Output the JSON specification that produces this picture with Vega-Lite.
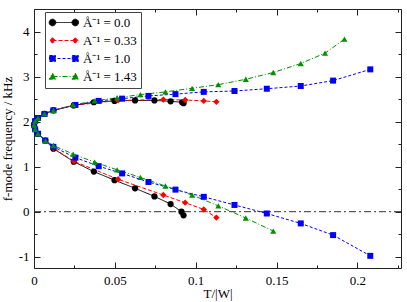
{
  "$schema": "https://vega.github.io/schema/vega-lite/v6.json",
  "width": 367,
  "height": 259,
  "autosize": {"type": "none"},
  "padding": {"left": 34, "top": 9, "right": 6, "bottom": 34},
  "config": {
    "view": {"stroke": null},
    "axis": {
      "labelFont": "Liberation Serif",
      "titleFont": "Liberation Serif",
      "labelFontSize": 13,
      "titleFontSize": 13,
      "titleFontWeight": "normal",
      "labelColor": "#000",
      "titleColor": "#000",
      "domainColor": "#222",
      "tickColor": "#222",
      "grid": false
    }
  },
  "datasets": {
    "pts": [
      {"s": "a", "o": 1, "x": 0.0925, "y": 2.41},
      {"s": "a", "o": 2, "x": 0.0916, "y": 2.43},
      {"s": "a", "o": 3, "x": 0.0845, "y": 2.45},
      {"s": "a", "o": 4, "x": 0.0745, "y": 2.47},
      {"s": "a", "o": 5, "x": 0.0625, "y": 2.47},
      {"s": "a", "o": 6, "x": 0.0498, "y": 2.46},
      {"s": "a", "o": 7, "x": 0.037, "y": 2.43},
      {"s": "a", "o": 8, "x": 0.0246, "y": 2.36},
      {"s": "a", "o": 9, "x": 0.012, "y": 2.25},
      {"s": "a", "o": 10, "x": 0.0065, "y": 2.17},
      {"s": "a", "o": 11, "x": 0.0025, "y": 2.08},
      {"s": "a", "o": 12, "x": 0.0007, "y": 2.01},
      {"s": "a", "o": 13, "x": 0, "y": 1.92},
      {"s": "a", "o": 14, "x": 0.0007, "y": 1.83},
      {"s": "a", "o": 15, "x": 0.0025, "y": 1.73},
      {"s": "a", "o": 16, "x": 0.007, "y": 1.58},
      {"s": "a", "o": 17, "x": 0.012, "y": 1.40},
      {"s": "a", "o": 18, "x": 0.0246, "y": 1.11},
      {"s": "a", "o": 19, "x": 0.037, "y": 0.89},
      {"s": "a", "o": 20, "x": 0.0498, "y": 0.70},
      {"s": "a", "o": 21, "x": 0.0625, "y": 0.52},
      {"s": "a", "o": 22, "x": 0.0745, "y": 0.34},
      {"s": "a", "o": 23, "x": 0.0845, "y": 0.17},
      {"s": "a", "o": 24, "x": 0.0912, "y": 0.0},
      {"s": "a", "o": 25, "x": 0.0925, "y": -0.08},

      {"s": "b", "o": 1, "x": 0.1128, "y": 2.44},
      {"s": "b", "o": 2, "x": 0.105, "y": 2.46},
      {"s": "b", "o": 3, "x": 0.0935, "y": 2.48},
      {"s": "b", "o": 4, "x": 0.080, "y": 2.49},
      {"s": "b", "o": 5, "x": 0.052, "y": 2.47},
      {"s": "b", "o": 6, "x": 0.0246, "y": 2.36},
      {"s": "b", "o": 7, "x": 0.012, "y": 2.25},
      {"s": "b", "o": 8, "x": 0.0065, "y": 2.17},
      {"s": "b", "o": 9, "x": 0.0025, "y": 2.08},
      {"s": "b", "o": 10, "x": 0.0007, "y": 2.01},
      {"s": "b", "o": 11, "x": 0, "y": 1.92},
      {"s": "b", "o": 12, "x": 0.0007, "y": 1.83},
      {"s": "b", "o": 13, "x": 0.0025, "y": 1.73},
      {"s": "b", "o": 14, "x": 0.007, "y": 1.58},
      {"s": "b", "o": 15, "x": 0.012, "y": 1.41},
      {"s": "b", "o": 16, "x": 0.0246, "y": 1.12},
      {"s": "b", "o": 17, "x": 0.052, "y": 0.72},
      {"s": "b", "o": 18, "x": 0.080, "y": 0.37},
      {"s": "b", "o": 19, "x": 0.0935, "y": 0.20},
      {"s": "b", "o": 20, "x": 0.105, "y": 0.05},
      {"s": "b", "o": 21, "x": 0.1128, "y": -0.13},

      {"s": "c", "o": 1, "x": 0.208, "y": 3.16},
      {"s": "c", "o": 2, "x": 0.185, "y": 2.91},
      {"s": "c", "o": 3, "x": 0.165, "y": 2.79},
      {"s": "c", "o": 4, "x": 0.144, "y": 2.73},
      {"s": "c", "o": 5, "x": 0.124, "y": 2.68},
      {"s": "c", "o": 6, "x": 0.105, "y": 2.66},
      {"s": "c", "o": 7, "x": 0.0875, "y": 2.61},
      {"s": "c", "o": 8, "x": 0.0708, "y": 2.57},
      {"s": "c", "o": 9, "x": 0.0545, "y": 2.51},
      {"s": "c", "o": 10, "x": 0.040, "y": 2.46},
      {"s": "c", "o": 11, "x": 0.0256, "y": 2.37},
      {"s": "c", "o": 12, "x": 0.012, "y": 2.25},
      {"s": "c", "o": 13, "x": 0.0065, "y": 2.17},
      {"s": "c", "o": 14, "x": 0.0025, "y": 2.08},
      {"s": "c", "o": 15, "x": 0.0007, "y": 2.01},
      {"s": "c", "o": 16, "x": 0, "y": 1.92},
      {"s": "c", "o": 17, "x": 0.0007, "y": 1.83},
      {"s": "c", "o": 18, "x": 0.0025, "y": 1.73},
      {"s": "c", "o": 19, "x": 0.007, "y": 1.58},
      {"s": "c", "o": 20, "x": 0.012, "y": 1.44},
      {"s": "c", "o": 21, "x": 0.0256, "y": 1.20},
      {"s": "c", "o": 22, "x": 0.040, "y": 1.01},
      {"s": "c", "o": 23, "x": 0.0545, "y": 0.85},
      {"s": "c", "o": 24, "x": 0.0708, "y": 0.66},
      {"s": "c", "o": 25, "x": 0.0875, "y": 0.49},
      {"s": "c", "o": 26, "x": 0.105, "y": 0.33},
      {"s": "c", "o": 27, "x": 0.124, "y": 0.15},
      {"s": "c", "o": 28, "x": 0.144, "y": -0.04},
      {"s": "c", "o": 29, "x": 0.165, "y": -0.26},
      {"s": "c", "o": 30, "x": 0.185, "y": -0.52},
      {"s": "c", "o": 31, "x": 0.208, "y": -0.98},

      {"s": "d", "o": 1, "x": 0.192, "y": 3.83},
      {"s": "d", "o": 2, "x": 0.180, "y": 3.52},
      {"s": "d", "o": 3, "x": 0.165, "y": 3.29},
      {"s": "d", "o": 4, "x": 0.148, "y": 3.09},
      {"s": "d", "o": 5, "x": 0.131, "y": 2.94},
      {"s": "d", "o": 6, "x": 0.114, "y": 2.82},
      {"s": "d", "o": 7, "x": 0.0978, "y": 2.74},
      {"s": "d", "o": 8, "x": 0.0813, "y": 2.66},
      {"s": "d", "o": 9, "x": 0.0658, "y": 2.60},
      {"s": "d", "o": 10, "x": 0.0514, "y": 2.53},
      {"s": "d", "o": 11, "x": 0.0375, "y": 2.46},
      {"s": "d", "o": 12, "x": 0.0242, "y": 2.37},
      {"s": "d", "o": 13, "x": 0.012, "y": 2.25},
      {"s": "d", "o": 14, "x": 0.0065, "y": 2.17},
      {"s": "d", "o": 15, "x": 0.0025, "y": 2.08},
      {"s": "d", "o": 16, "x": 0.0007, "y": 2.01},
      {"s": "d", "o": 17, "x": 0, "y": 1.92},
      {"s": "d", "o": 18, "x": 0.0007, "y": 1.83},
      {"s": "d", "o": 19, "x": 0.0025, "y": 1.73},
      {"s": "d", "o": 20, "x": 0.0071, "y": 1.57},
      {"s": "d", "o": 21, "x": 0.012, "y": 1.47},
      {"s": "d", "o": 22, "x": 0.0242, "y": 1.28},
      {"s": "d", "o": 23, "x": 0.0375, "y": 1.10},
      {"s": "d", "o": 24, "x": 0.0514, "y": 0.93},
      {"s": "d", "o": 25, "x": 0.0658, "y": 0.76},
      {"s": "d", "o": 26, "x": 0.0813, "y": 0.57},
      {"s": "d", "o": 27, "x": 0.0978, "y": 0.37},
      {"s": "d", "o": 28, "x": 0.114, "y": 0.13},
      {"s": "d", "o": 29, "x": 0.131, "y": -0.14},
      {"s": "d", "o": 30, "x": 0.148, "y": -0.43}
    ]
  },
  "layer": [
    {
      "data": {"values": [{"y": 0}]},
      "mark": {"type": "rule", "color": "#333", "strokeWidth": 1, "strokeDash": [7, 3, 2, 3]},
      "encoding": {
        "y": {"field": "y", "type": "quantitative", "axis": null}
      }
    },
    {
      "data": {"name": "pts"},
      "mark": {"type": "line", "strokeWidth": 1},
      "encoding": {
        "x": {
          "field": "x", "type": "quantitative",
          "scale": {"domain": [0, 0.227], "nice": false, "zero": false},
          "axis": {
            "orient": "bottom",
            "title": "T/|W|",
            "values": [0, 0.025, 0.05, 0.075, 0.1, 0.125, 0.15, 0.175, 0.2, 0.225],
            "labelExpr": "indexof([0, 0.05, 0.1, 0.15, 0.2], datum.value) >= 0 ? toString(datum.value) : ''",
            "tickSize": {"condition": {"test": "indexof([0, 0.05, 0.1, 0.15, 0.2], datum.value) >= 0", "value": -6}, "value": -3},
            "labelPadding": 12,
            "labelFlush": false,
            "labelOverlap": false,
            "titleY": 19
          }
        },
        "y": {
          "field": "y", "type": "quantitative",
          "scale": {"domain": [-1.25, 4.5], "nice": false, "zero": false},
          "axis": {
            "orient": "left",
            "title": "f-mode frequency / kHz",
            "values": [-1, -0.5, 0, 0.5, 1, 1.5, 2, 2.5, 3, 3.5, 4, 4.5],
            "labelExpr": "datum.value % 1 == 0 ? toString(datum.value) : ''",
            "tickSize": {"condition": {"test": "datum.value % 1 == 0", "value": -6}, "value": -3},
            "labelPadding": 11,
            "labelFlush": false,
            "labelOverlap": false,
            "titleX": -20
          }
        },
        "color": {
          "field": "s", "type": "nominal",
          "scale": {"domain": ["a", "b", "c", "d"], "range": ["#000000", "#ff0000", "#0000ff", "#009000"]},
          "legend": {
            "orient": "none",
            "legendX": 11,
            "legendY": 3,
            "title": null,
            "padding": 4,
            "strokeColor": "#444",
            "fillColor": "#ffffff",
            "symbolSize": 144,
            "symbolStrokeWidth": 1,
            "symbolOpacity": 1,
            "rowPadding": 4,
            "labelOffset": 21,
            "labelFont": "Liberation Serif",
            "labelFontSize": 13,
            "labelColor": "#000",
            "labelExpr": "{'a': 'Å⁻¹ = 0.0', 'b': 'A⁻¹ = 0.33', 'c': 'Å⁻¹ = 1.0', 'd': 'Å⁻¹ = 1.43'}[datum.value]",
            "symbolType": {"expr": "datum.value == 'a' ? 'M-0.5,0L3.3,0M-1.05,0A0.55,0.55,0,1,0,0.05,0A0.55,0.55,0,1,0,-1.05,0ZM2.75,0A0.55,0.55,0,1,0,3.85,0A0.55,0.55,0,1,0,2.75,0Z' : datum.value == 'b' ? 'M-0.5,0L3.3,0M-0.5,-0.45L-0.05,0L-0.5,0.45L-0.95,0ZM3.3,-0.45L3.75,0L3.3,0.45L2.85,0Z' : datum.value == 'c' ? 'M-0.5,0L3.3,0M-1,-0.5L0,-0.5L0,0.5L-1,0.5ZM2.8,-0.5L3.8,-0.5L3.8,0.5L2.8,0.5Z' : 'M-0.5,0L3.3,0M-0.5,-0.55L0.05,0.45L-1.05,0.45ZM3.3,-0.55L3.85,0.45L2.75,0.45Z'"},
            "symbolDash": {"expr": "datum.value == 'a' ? [1, 0] : datum.value == 'b' ? [4, 2] : datum.value == 'c' ? [3, 2] : [5, 2, 1, 2]"}
          }
        },
        "strokeDash": {
          "field": "s", "type": "nominal",
          "scale": {"domain": ["a", "b", "c", "d"], "range": [[1, 0], [4, 2], [3, 2], [5, 2, 1, 2]]},
          "legend": null
        },
        "order": {"field": "o", "type": "quantitative"}
      }
    },
    {
      "data": {"name": "pts"},
      "mark": {"type": "point", "filled": true, "opacity": 1},
      "encoding": {
        "x": {"field": "x", "type": "quantitative", "axis": null},
        "y": {"field": "y", "type": "quantitative", "axis": null},
        "color": {"field": "s", "type": "nominal"},
        "shape": {
          "field": "s", "type": "nominal",
          "scale": {"domain": ["d", "c", "b", "a"], "range": ["triangle-up", "square", "diamond", "circle"]},
          "legend": null
        },
        "size": {
          "field": "s", "type": "nominal",
          "scale": {"domain": ["c", "d", "a", "b"], "range": [36, 40, 46, 30]},
          "legend": null
        }
      }
    },
    {
      "data": {"values": [{"x": 0, "y": 0}]},
      "mark": {"type": "point", "opacity": 0},
      "encoding": {
        "x": {
          "field": "x", "type": "quantitative",
          "axis": {
            "orient": "top",
            "title": null,
            "labels": false,
            "values": [0, 0.025, 0.05, 0.075, 0.1, 0.125, 0.15, 0.175, 0.2, 0.225],
            "tickSize": {"condition": {"test": "indexof([0, 0.05, 0.1, 0.15, 0.2], datum.value) >= 0", "value": -6}, "value": -3}
          }
        },
        "y": {
          "field": "y", "type": "quantitative",
          "axis": {
            "orient": "right",
            "title": null,
            "labels": false,
            "values": [-1, -0.5, 0, 0.5, 1, 1.5, 2, 2.5, 3, 3.5, 4, 4.5],
            "tickSize": {"condition": {"test": "datum.value % 1 == 0", "value": -6}, "value": -3}
          }
        }
      }
    }
  ],
  "resolve": {"axis": {"x": "independent", "y": "independent"}}
}
